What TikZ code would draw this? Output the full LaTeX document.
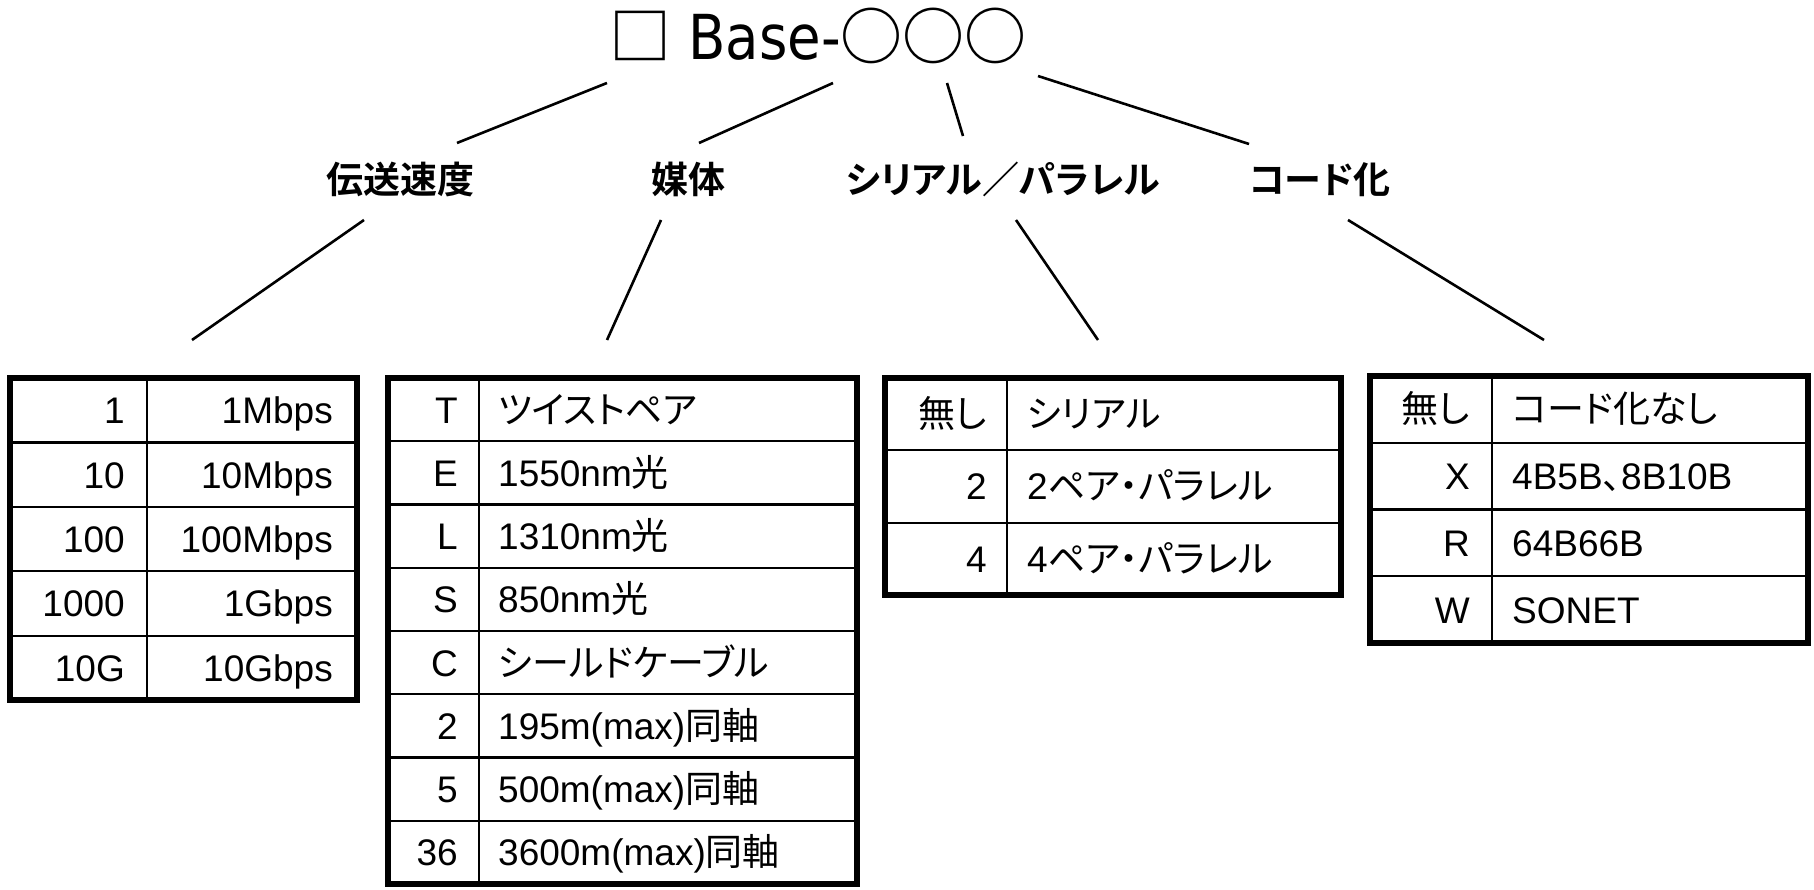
\documentclass[tikz,border=0pt]{standalone}
\usepackage{fontspec}
\setmainfont{Liberation Sans}
\newfontfamily\jp[CharacterWidth=AlternateProportional]{Noto Sans CJK JP}
\newfontfamily\jpb[CharacterWidth=AlternateProportional]{Noto Sans CJK JP Bold}
\newfontfamily\titlef[FakeStretch=0.88]{DejaVu Sans}
\newfontfamily\symf{Noto Sans CJK JP Medium}
\newcommand\J[1]{{\jp #1}}
\begin{document}
\begin{tikzpicture}[x=1pt,y=-1pt,
  conn/.style={line width=2.6pt},
  outer/.style={line width=6pt},
  inner/.style={line width=2.2pt},
  cell/.style={inner sep=0pt, font=\fontsize{37}{44}\selectfont},
  cat/.style={inner sep=0pt, anchor=base, font=\jpb\fontsize{37}{44}\selectfont},
]
\useasboundingbox (0,0) rectangle (1814,890);

% title
\node[anchor=base, inner sep=0pt, font=\fontsize{62}{70}\selectfont] (title) at (818,60)
  {{\symf □}{\titlef\ Base-}{\symf ○○○}};

% categories
\node[cat] (c1) at (400,194) {伝送速度};
\node[cat] (c2) at (688,194) {媒体};
\node[cat] (c3) at (1003,194) {シリアル／パラレル};
\node[cat] (c4) at (1320,194) {コード化};

% connector end points
\coordinate (l1a) at (607,83);  \coordinate (l1b) at (457,143);
\coordinate (l2a) at (833,83);  \coordinate (l2b) at (699,143);
\coordinate (l3a) at (947,83);  \coordinate (l3b) at (963,136);
\coordinate (l4a) at (1038,76); \coordinate (l4b) at (1249,144);
\coordinate (l5a) at (364,220); \coordinate (l5b) at (192,340);
\coordinate (l6a) at (661,220); \coordinate (l6b) at (607,340);
\coordinate (l7a) at (1016,220);\coordinate (l7b) at (1098,340);
\coordinate (l8a) at (1348,220);\coordinate (l8b) at (1544,340);
\foreach \i in {1,...,8} \draw[conn] (l\i a) -- (l\i b);

% table 1
\foreach \k in {1,...,4} \draw[inner] (10,{378+64.4*\k}) -- (357,{378+64.4*\k});
\draw[inner] (147,378) -- (147,700);
\draw[outer] (10,378) rectangle (357,700);
\foreach \a/\b [count=\i] in {1/1Mbps,10/10Mbps,100/100Mbps,1000/1Gbps,10G/10Gbps}{
  \node[cell,anchor=base east] (ta\i) at (125,{378+64.4*(\i-0.5)+13.5}) {\a};
  \node[cell,anchor=base east] (tb\i) at (333,{378+64.4*(\i-0.5)+13.5}) {\b};
}

% table 2
\foreach \k in {1,...,7} \draw[inner] (388,{378+63.25*\k}) -- (857,{378+63.25*\k});
\draw[inner] (479,378) -- (479,884);
\draw[outer] (388,378) rectangle (857,884);
\foreach \a/\b [count=\i] in {T/\J{ツイストペア},E/1550nm\J{光},L/1310nm\J{光},S/850nm\J{光},C/\J{シールドケーブル},2/195m(max)\J{同軸},5/500m(max)\J{同軸},36/3600m(max)\J{同軸}}{
  \node[cell,anchor=base east] (ma\i) at (458,{378+63.25*(\i-0.5)+13.5}) {\a};
  \node[cell,anchor=base west] (mb\i) at (498,{378+63.25*(\i-0.5)+13.5}) {\b};
}

% table 3
\foreach \k in {1,2} \draw[inner] (885,{378+72.33*\k}) -- (1341,{378+72.33*\k});
\draw[inner] (1007,378) -- (1007,595);
\draw[outer] (885,378) rectangle (1341,595);
\foreach \a/\b [count=\i] in {\J{無し}/\J{シリアル},2/2\J{ペア・パラレル},4/4\J{ペア・パラレル}}{
  \node[cell,anchor=base east] (sa\i) at (987,{378+72.33*(\i-0.5)+13.5}) {\a};
  \node[cell,anchor=base west] (sb\i) at (1027,{378+72.33*(\i-0.5)+13.5}) {\b};
}

% table 4
\foreach \k in {1,2,3} \draw[inner] (1370,{376+66.75*\k}) -- (1808,{376+66.75*\k});
\draw[inner] (1492,376) -- (1492,643);
\draw[outer] (1370,376) rectangle (1808,643);
\foreach \a/\b [count=\i] in {\J{無し}/\J{コード化なし},X/4B5B\J{、}8B10B,R/64B66B,W/SONET}{
  \node[cell,anchor=base east] (ka\i) at (1470,{376+66.75*(\i-0.5)+13.5}) {\a};
  \node[cell,anchor=base west] (kb\i) at (1512,{376+66.75*(\i-0.5)+13.5}) {\b};
}
\end{tikzpicture}
\end{document}
